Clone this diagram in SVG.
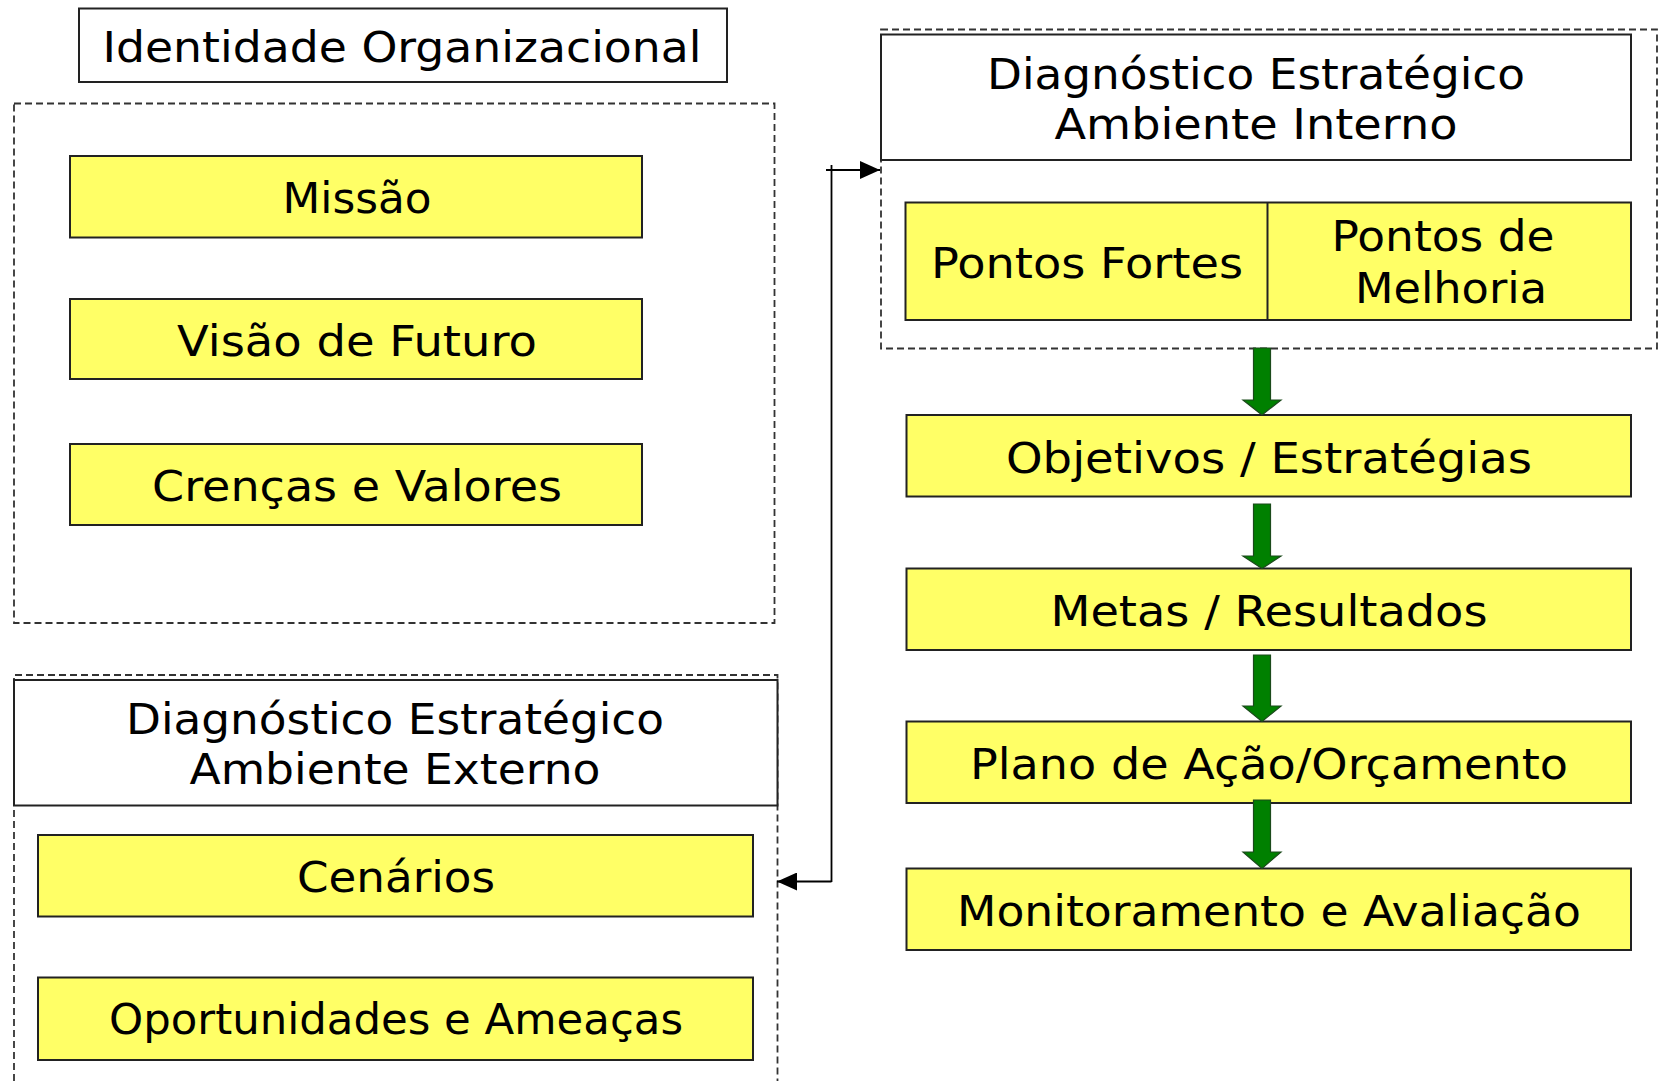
<svg xmlns="http://www.w3.org/2000/svg" width="1659" height="1081" viewBox="0 0 1659 1081">
<defs>
<style>
.t{font-family:"DejaVu Sans",Verdana,"Liberation Sans",sans-serif;font-size:42px;fill:#000;text-anchor:middle}
.y{fill:#ffff66;stroke:#222;stroke-width:2}
.w{fill:#fff;stroke:#222;stroke-width:2}
.d{fill:none;stroke:#333;stroke-width:1.8;stroke-dasharray:7 4}
.c{fill:none;stroke:#000;stroke-width:1.8}
.g{fill:#008000;stroke:#1b4a1b;stroke-width:1.2}
</style>
<marker id="ah" viewBox="0 0 20 18" refX="20" refY="9" markerWidth="20" markerHeight="18" markerUnits="userSpaceOnUse" orient="auto">
<path d="M0,0 L20,9 L0,18 Z" fill="#000"/>
</marker>
</defs>
<rect width="1659" height="1081" fill="#fff"/>

<g id="identidade">
<rect class="w" x="79" y="8.5" width="648" height="73.5"/>
<text class="t" x="402" y="62" textLength="599" lengthAdjust="spacingAndGlyphs">Identidade Organizacional</text>
</g>

<g id="grupo-identidade">
<rect class="d" x="14" y="103.5" width="760.5" height="519.5"/>
</g>

<g id="missao">
<rect class="y" x="70" y="156" width="572" height="81.5"/>
<text class="t" x="357" y="213" textLength="149" lengthAdjust="spacingAndGlyphs">Missão</text>
</g>
<g id="visao">
<rect class="y" x="70" y="299" width="572" height="80"/>
<text class="t" x="357" y="356" textLength="360" lengthAdjust="spacingAndGlyphs">Visão de Futuro</text>
</g>
<g id="crencas">
<rect class="y" x="70" y="444" width="572" height="81"/>
<text class="t" x="357" y="501" textLength="410" lengthAdjust="spacingAndGlyphs">Crenças e Valores</text>
</g>

<g id="grupo-interno">
<rect class="d" x="881" y="29.5" width="776" height="319"/>
</g>
<g id="diag-interno">
<rect class="w" x="881" y="34.5" width="750" height="125.5"/>
<text class="t" x="1256" y="88.5" textLength="538" lengthAdjust="spacingAndGlyphs">Diagnóstico Estratégico</text>
<text class="t" x="1256" y="138.5" textLength="403" lengthAdjust="spacingAndGlyphs">Ambiente Interno</text>
</g>
<g id="pontos">
<rect class="y" x="905.5" y="202.5" width="725.5" height="117.5"/>
<line x1="1267.5" y1="202.5" x2="1267.5" y2="320" stroke="#222" stroke-width="2"/>
<text class="t" x="1087" y="277.5" textLength="312" lengthAdjust="spacingAndGlyphs">Pontos Fortes</text>
<text class="t" x="1443" y="251" textLength="223" lengthAdjust="spacingAndGlyphs">Pontos de</text>
<text class="t" x="1451" y="303" textLength="192" lengthAdjust="spacingAndGlyphs">Melhoria</text>
</g>

<g id="objetivos">
<rect class="y" x="906.5" y="415" width="724.5" height="81.5"/>
<text class="t" x="1269" y="472.5" textLength="526" lengthAdjust="spacingAndGlyphs">Objetivos / Estratégias</text>
</g>
<g id="metas">
<rect class="y" x="906.5" y="568.5" width="724.5" height="81.5"/>
<text class="t" x="1269" y="625.5" textLength="437" lengthAdjust="spacingAndGlyphs">Metas / Resultados</text>
</g>
<g id="plano">
<rect class="y" x="906.5" y="721.5" width="724.5" height="81.5"/>
<text class="t" x="1269" y="779" textLength="598" lengthAdjust="spacingAndGlyphs">Plano de Ação/Orçamento</text>
</g>
<g id="monitoramento">
<rect class="y" x="906.5" y="868.5" width="724.5" height="81.5"/>
<text class="t" x="1269" y="925.5" textLength="624" lengthAdjust="spacingAndGlyphs">Monitoramento e Avaliação</text>
</g>

<g id="grupo-externo">
<path class="d" d="M14,1081 V675 H777.5 V1081"/>
</g>
<g id="diag-externo">
<rect class="w" x="14" y="680" width="763.5" height="125.5"/>
<text class="t" x="395" y="734" textLength="538" lengthAdjust="spacingAndGlyphs">Diagnóstico Estratégico</text>
<text class="t" x="395" y="784" textLength="411" lengthAdjust="spacingAndGlyphs">Ambiente Externo</text>
</g>
<g id="cenarios">
<rect class="y" x="38" y="835" width="715" height="81.5"/>
<text class="t" x="396" y="891.5" textLength="198" lengthAdjust="spacingAndGlyphs">Cenários</text>
</g>
<g id="oportunidades">
<rect class="y" x="38" y="977.5" width="715" height="82.5"/>
<text class="t" x="396" y="1034" textLength="574" lengthAdjust="spacingAndGlyphs">Oportunidades e Ameaças</text>
</g>

<g id="connectors">
<line class="c" x1="831.5" y1="165" x2="831.5" y2="882"/>
<line class="c" x1="826" y1="170" x2="880" y2="170" marker-end="url(#ah)"/>
<line class="c" x1="831.5" y1="881.5" x2="777" y2="881.5" marker-end="url(#ah)"/>
<path class="g" d="M1253.5,348 H1270.5 V400 H1281 L1262,415 L1243,400 H1253.5 Z"/>
<path class="g" d="M1253.5,504 H1270.5 V556 H1281 L1262,568.5 L1243,556 H1253.5 Z"/>
<path class="g" d="M1253.5,655 H1270.5 V706 H1281 L1262,721.5 L1243,706 H1253.5 Z"/>
<path class="g" d="M1253.5,800 H1270.5 V852 H1281 L1262,868.5 L1243,852 H1253.5 Z"/>
</g>
</svg>
